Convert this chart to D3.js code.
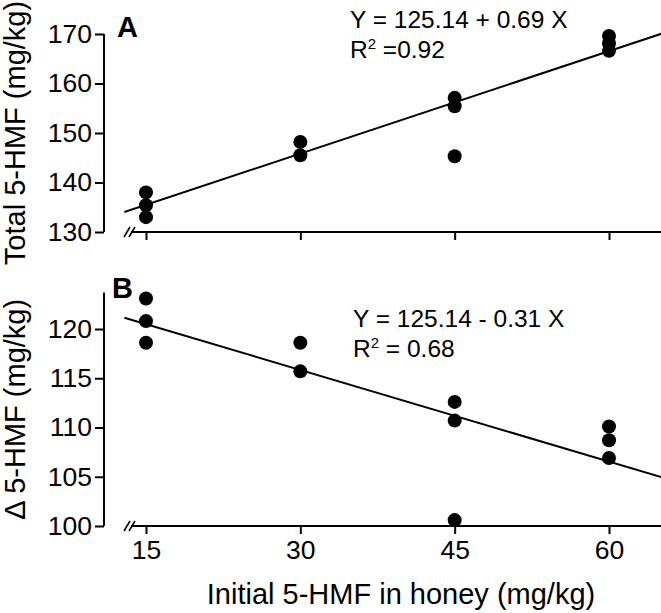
<!DOCTYPE html>
<html><head><meta charset="utf-8">
<script src="https://cdn.jsdelivr.net/npm/d3@7"></script>
<style>body{margin:0;background:#fff}svg{display:block}text{font-family:"Liberation Sans",Arial,sans-serif;fill:#000}</style>
</head><body>
<script>
// ---- data ----
const xTicks = [15, 30, 45, 60];
const aTicks = [130, 140, 150, 160, 170];
const bTicks = [100, 105, 110, 115, 120];
const aX = [15, 15, 15, 30, 30, 45, 45, 45, 60, 60, 60];
const aY = [138.0, 135.4, 133.0, 148.2, 145.5, 157.1, 155.4, 145.3, 169.6, 168.1, 166.6];
const bX = [15, 15, 15, 30, 30, 45, 45, 45, 60, 60, 60];
const bY = [123.1, 120.8, 118.6, 118.6, 115.7, 112.6, 110.7, 100.6, 110.1, 108.7, 106.9];
const aFit = {a: 125.14, b: 0.69};
const bFit = {a: 125.14, b: -0.31};
const fitRange = [12.9, 65.1];
const aEq = ["Y = 125.14 + 0.69 X", "=0.92"];
const bEq = ["Y = 125.14 - 0.31 X", "= 0.68"];

const W = 661, H = 613;
const svg = d3.select("body").append("svg").attr("width", W).attr("height", H);
const x = d3.scaleLinear().domain([15, 60]).range([146, 609]);
const axisX = 104;

function panel(yScale, yTicks, yTop, xsArr, ysArr, fit, eq, letter, letterPos, eqPos, title, showXLabels) {
  const g = svg.append("g");
  const y0 = yScale(yTicks[0]);
  // y axis
  const ya = g.append("g").attr("transform", `translate(${axisX},0)`)
    .call(d3.axisLeft(yScale).tickValues(yTicks).tickSize(9).tickPadding(3).tickSizeOuter(0));
  ya.select(".domain").remove();
  ya.append("line").attr("x1", 0).attr("x2", 0).attr("y1", yScale(yTop)).attr("y2", y0).attr("stroke", "#000").attr("stroke-width", 2);
  ya.selectAll(".tick line").attr("stroke-width", 2);
  ya.selectAll(".tick text").style("font-size", "26.5px").attr("fill", "#000");
  // x axis
  const xa = g.append("g").attr("transform", `translate(0,${y0})`)
    .call(d3.axisBottom(x).tickValues(xTicks).tickSize(8).tickPadding(6).tickFormat(showXLabels ? d3.format("d") : () => ""));
  xa.select(".domain").remove();
  xa.append("line").attr("x1", 131).attr("x2", W).attr("y1", 0).attr("y2", 0).attr("stroke", "#000").attr("stroke-width", 2);
  xa.selectAll(".tick line").attr("stroke-width", 2);
  xa.selectAll(".tick text").style("font-size", "26.5px").attr("fill", "#000");
  // break marks
  [0, 5].forEach(o => {
    g.append("line").attr("x1", 124 + o).attr("y1", y0 + 5).attr("x2", 130 + o).attr("y2", y0 - 5)
      .attr("stroke", "#000").attr("stroke-width", 1.5);
  });
  // fit line
  g.append("path").datum(fitRange)
    .attr("d", d3.line().x(d => x(d)).y(d => yScale(fit.a + fit.b * d)))
    .attr("stroke", "#000").attr("stroke-width", 2).attr("fill", "none");
  // points
  g.selectAll("circle.pt").data(xsArr.map((d, i) => [d, ysArr[i]])).join("circle")
    .attr("cx", d => x(d[0])).attr("cy", d => yScale(d[1])).attr("r", 7).attr("fill", "#000");
  // letter
  g.append("text").attr("x", letterPos[0]).attr("y", letterPos[1]).style("font-size", "29px").style("font-weight", "bold").text(letter);
  // equation
  g.append("text").attr("x", eqPos[0]).attr("y", eqPos[1]).style("font-size", "24.5px").text(eq[0]);
  const t2 = g.append("text").attr("x", eqPos[0]).attr("y", eqPos[1] + 30).style("font-size", "24.5px");
  t2.append("tspan").text("R");
  t2.append("tspan").attr("dy", -9).style("font-size", "15px").text("2");
  t2.append("tspan").attr("dy", 9).text(" " + eq[1]);
  // y title
  const cy = (yScale(yTop) + y0) / 2;
  g.append("text").attr("transform", `translate(25,${cy}) rotate(-90)`).attr("text-anchor", "middle")
    .style("font-size", "29px").text(title);
}

const yA = d3.scaleLinear().domain([130, 170]).range([232, 34]);
const yB = d3.scaleLinear().domain([100, 120]).range([526, 329]);
panel(yA, aTicks, 170, aX, aY, aFit, aEq, "A", [117, 37], [350, 28], "Total 5-HMF (mg/kg)", false);
panel(yB, bTicks, 123.7, bX, bY, bFit, bEq, "B", [112, 298], [353, 327], "\u0394 5-HMF (mg/kg)", true);

svg.append("text").attr("x", 401).attr("y", 604).attr("text-anchor", "middle").style("font-size", "29px")
  .text("Initial 5-HMF in honey (mg/kg)");
</script>
</body></html>
